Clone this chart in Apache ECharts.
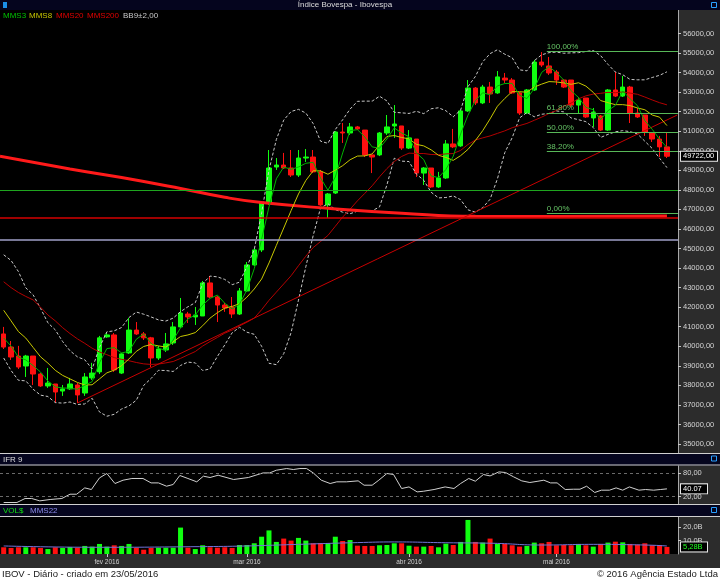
<!DOCTYPE html>
<html><head><meta charset="utf-8">
<script src="https://cdn.jsdelivr.net/npm/echarts@6/dist/echarts.min.js"></script>
<style>html,body{margin:0;padding:0;background:#000;}#c{width:720px;height:580px;}</style>
</head><body><div id="c"></div>
<script>
// ---------- DATA ----------
const dates = ['11/01','12/01','13/01','14/01','15/01','18/01','19/01','20/01','21/01','22/01','26/01','27/01','28/01','29/01',
'01/02','02/02','03/02','04/02','05/02','10/02','11/02','12/02','15/02','16/02','17/02','18/02','19/02','22/02','23/02','24/02','25/02','26/02','29/02',
'01/03','02/03','03/03','04/03','07/03','08/03','09/03','10/03','11/03','14/03','15/03','16/03','17/03','18/03','21/03','22/03','23/03','24/03','28/03','29/03','30/03','31/03',
'01/04','04/04','05/04','06/04','07/04','08/04','11/04','12/04','13/04','14/04','15/04','18/04','19/04','20/04','22/04','25/04','26/04','27/04','28/04','29/04',
'02/05','03/05','04/05','05/05','06/05','09/05','10/05','11/05','12/05','13/05','16/05','17/05','18/05','19/05','20/05','23/05'];
const monthIdx = [14,33,55,75];
const monthNames = ['fev 2016','mar 2016','abr 2016','mai 2016'];

const open = [40630,39960,39500,38990,39500,38580,37970,38070,37710,37820, 38020,37610,38380,38690,40480,40580,38630,39660,40830,40630,
40430,39400,39810,40170,40990,41650,41500,41550,43240,42520, 42110,42010,41650,42830,44160,44930,47330,49170,49270,49120,
48760,49630,49680,48920,47230,47840,50960,50910,51220,51060, 49790,49790,50910,51270,51270,50140,50600,48860,49120,48150,
48610,50350,50250,52040,53210,52450,53260,52960,53720,53620, 52960,51930,53110,54540,54340,54030,53620,53620,52340,52700,
51680,51780,51060,53110,52800,53260,51930,51830,50910,50600, 50200];
const close = [39960,39450,38940,39500,38580,37970,38120,37660,37820,38070, 37510,38430,38630,40430,40580,38790,39610,40830,40630,40430,
39400,39860,40120,40990,41700,41500,41600,43240,42520,42110, 41960,41650,42830,44160,44930,47330,49120,49270,49120,48760,
49630,49680,48920,47230,47790,50960,50910,51220,51120,49790, 49680,50910,51220,51370,50140,50660,48860,49120,48150,48610,
50350,50200,52040,53210,52450,53260,52910,53780,53620,52960, 51930,53110,54540,54390,53980,53620,53260,52340,52600,51730,
51980,51060,53110,52800,53260,51930,51730,50960,50600,50200, 49722];
const low = [39860,39300,38840,38430,38020,37920,37870,37100,37460,37770, 37100,37460,38280,38580,40430,38690,38580,39610,40580,40320,
38940,39300,39710,40070,40940,41190,41090,41550,42470,41240, 41760,41450,41600,42780,44110,44820,47230,49020,49070,48660,
48660,49430,48860,47180,46560,47790,50400,50810,51060,49680, 48860,49730,50810,50660,50040,50090,48660,48250,48100,48100,
48560,50140,50200,51990,52340,52390,52450,52910,53470,52910, 51830,51880,53060,54290,53880,53370,53210,52240,51930,51680,
51220,51010,51010,52750,52750,51420,51680,50760,50450,49680, 49630];
const high = [40990,40270,40020,39560,39500,38630,38890,38070,38020,38380, 38120,38630,39150,40530,40680,40680,39660,41450,41240,40730,
40480,40020,40680,41240,42470,41760,42010,43340,43600,42570, 42220,42520,42980,44310,45030,47430,50040,49630,49890,50040,
50040,50090,50040,49020,47840,51010,51420,51420,51270,51060, 49790,50960,51830,52340,51270,51060,50600,49170,49120,48920,
50550,51120,52090,53620,53260,53370,53520,54080,53980,53720, 53010,53160,54650,55050,54800,54130,53670,53620,52750,52700,
52190,51830,53160,54030,53830,53320,52190,51830,50960,50760, 50960];

const mms3 = [40420,40010,39450,39300,39010,38680,38220,37920,37870,37850, 37800,38000,38190,39160,39880,39930,39660,39740,40360,40630,
40150,39900,39790,40320,40940,41400,41600,42110,42450,42620, 42200,41910,42150,42880,43970,45470,47130,48570,49170,49050,
49170,49360,49410,48610,47980,48660,49890,51030,51080,50710, 50200,50130,50600,51170,50910,50720,49890,49550,48710,48630,
49040,49720,50860,51820,52570,52970,52870,53320,53440,53450, 52840,52670,53190,54010,54300,54000,53620,53070,52730,52220,
52100,51590,52050,52320,53060,52660,52310,51540,51100,50590, 50170];
const mms8 = [41840,41300,40750,40420,39940,39460,39140,38770,38510,38330, 38150,38020,38030,38330,38640,38780,39010,39350,39740,39990,
40090,40020,39960,40230,40500,40580,40700,41050,41440,41720, 41950,42040,42180,42510,42930,43440,44260,45160,46050,46940,
47790,48480,48980,48970,48800,49010,49240,49540,49730,49740, 49840,50300,50730,50780,50680,50610,50330,50250,50050,49770,
49660,49510,49750,50070,50520,51030,51630,52280,52680,53030, 53020,53000,53260,53410,53540,53520,53470,53400,53480,53310,
52990,52570,52460,52360,52360,52310,52190,52100,51830,51720, 51290];
const mms20 = [43300,43000,42750,42550,42370,42000,41600,41300,40950,40650, 40380,40150,39900,39710,39570,39420,39330,39260,39170,39100,
39070,39090,39150,39220,39380,39560,39730,40010,40240,40450, 40670,40830,41040,41230,41440,41870,42350,42770,43190,43610,
44120,44610,45050,45360,45670,46140,46610,47010,47440,47820, 48210,48670,49090,49450,49710,49880,49860,49860,49810,49800,
49840,49860,50020,50320,50550,50660,50760,50890,51020,51180, 51290,51400,51560,51720,51910,52060,52280,52440,52660,52810,
52900,52940,52990,52970,53010,52950,52890,52750,52600,52460, 52350];
const bbUp = [44680,44390,43820,42990,42630,41940,41200,40840,40240,39770, 39460,39310,38840,39940,40740,40790,40960,41470,41750,41640,
41500,41350,41290,41440,41770,42020,42230,43200,43590,43550, 43420,43150,43280,44070,44950,46830,49010,50580,51570,52010,
52120,51930,51390,50490,50380,51090,51590,52130,52530,52540, 52540,52790,52550,51970,51940,51910,52020,51900,52150,52200,
52050,51740,52080,53280,53800,54550,54970,55170,54940,54760, 54140,54090,54610,54910,55020,55050,54990,55010,55020,55080,
55130,54870,54420,54030,53890,53650,53630,53630,53750,53860, 54040];
const bbLo = [39400,38760,38260,38230,37800,37500,37430,37120,37090,37150, 37020,37050,37340,36640,36420,36520,36790,36950,37240,38000,
38350,38770,38760,38710,39020,39190,39150,38760,38840,39480, 40070,40690,40970,40720,40610,40000,39130,39060,39620,40700,
42360,44070,45670,47080,47290,46990,46860,46780,46910,46930, 46930,47130,48250,49620,49470,49450,48810,48490,47880,47590,
47610,47690,47500,46980,46860,47090,47520,48570,49910,50670, 51680,51960,51740,51870,51910,52040,51990,51680,51590,51490,
51190,50680,50840,50970,51030,50980,50860,50490,50120,49620, 49140];
const m200X = [-0.5, 9, 16, 24, 30, 35, 44, 54, 64, 75, 90];
const m200V = [49720, 49070, 48630, 48070, 47620, 47350, 47060, 46810, 46650, 46640, 46660];
const trendX = [10, 91.4];
const trendV = [37100, 51830];
const hLevels = [48000, 46550, 45430];
const fibStart = 73.7;
const fibPct = ['100,00%','61,80%','50,00%','38,20%','0,00%'];
const fibVal = [55080, 51930, 50940, 49960, 46800];
const priceTicks = [35000,36000,37000,38000,39000,40000,41000,42000,43000,44000,45000,46000,47000,48000,49000,50000,51000,52000,53000,54000,55000,56000];

const ifrX = [0.0,1.8,2.9,3.8,4.9,6.3,7.9,9.0,9.9,11.0, 11.9,13.0,14.0,15.1,16.2,17.4,18.9,20.0,21.0,22.1,
23.0,23.9,25.0,26.2,27.1,28.0,29.1,31.2,33.2,35.2, 36.1,37.0,38.4,39.3,40.2,41.1,42.0,43.1,44.3,45.2,
46.5,48.1, 48.9,50.0,50.9,52.0,52.9,54.0,55.0,56.1, 57.0,58.4,59.9,61.1,62.0,63.1,64.0,65.1,66.0,67.2,
68.1,69.2,70.3,71.4,72.5,73.3,74.2,75.1,76.2,77.3, 78.2,79.1,80.2,81.1,82.2,83.1,84.0,84.9,86.2,87.1, 88.2,89.1,90.0];
const ifrV = [5.1,5.1,15.4,15.4,9.3,12.8,15.4,26.4,26.4,42.6, 38.4,68.2,79.5,53.8,62.3,66.7,66.7,55.4,55.4,46.9,
51.3,74.4,66.7,58.1,72.6,69.2,75.1,64.1,69.2,81.0, 81.0,87.9,92.2,89.7,92.2,92.2,81.0,62.3,53.8,58.1,
58.1,60.6, 49.5,49.5,62.3,79.5,76.9,41.0,45.1,32.3, 34.1,38.4,45.1,41.0,53.8,66.7,59.7,76.9,73.3,83.6,
82.0,70.8,60.6,56.4,59.7,62.3,55.4,55.4,38.4,39.2, 39.2,46.9,30.8,36.7,36.7,42.6,36.7,45.1,36.7,38.4, 36.7,38.4,40.07];
const ifrTicks = [20, 80];
const ifrLast = 40.07;

const vol = [5.0,4.5,5.0,5.0,5.0,4.5,3.7,5.0,4.5,5.2, 4.7,6.0,5.5,7.5,5.5,6.5,6.0,7.5,4.7,3.2,
4.5,4.7,4.7,4.7,19.7,4.7,3.7,6.5,5.0,4.7, 5.0,4.5,6.7,6.7,8.0,12.9,17.6,9.0,11.5,10.0,
12.0,10.0,8.0,8.2,8.2,12.9,9.7,10.4,6.2,6.0, 6.0,6.5,6.7,8.0,8.0,6.2,5.5,5.5,6.0,5.0,
7.7,6.7,9.0,25.4,9.0,8.5,11.5,7.5,7.5,6.5, 5.5,6.0,8.5,8.0,9.0,6.5,6.7,6.5,7.5,6.5,
5.5,7.5,8.5,9.2,8.7,7.5,7.0,8.0,6.5,6.5, 5.28];
const volMaX = [0, 13, 26.6, 33, 40, 48, 53, 60, 66.4, 73, 80, 87, 90];
const volMaV = [6.0, 5.0, 5.5, 6.0, 7.2, 8.5, 9.0, 8.4, 8.0, 6.7, 7.2, 6.7, 6.0];
const volTicks = [10, 20];

// ---------- CHART ----------
const FONT = 'Liberation Sans, Arial, sans-serif';
const N = dates.length;
const cats = dates.concat(['']);
const ohlc = open.map((o, i) => [o, close[i], low[i], high[i]]);
const GREEN = '#10ff10', RED = '#ff1010';
const volData = vol.map((v, i) => ({ value: v, itemStyle: { color: close[i] >= open[i] ? GREEN : RED } }));
const fmtP = v => v.toFixed(2).replace('.', ',');
const fmtV = v => v.toFixed(1).replace('.', ',') + 'B';
const fmtV2 = v => v.toFixed(2).replace('.', ',') + 'B';

const chart = echarts.init(document.getElementById('c'), null, { renderer: 'canvas', width: 720, height: 580 });

const xCat = (g, extra) => Object.assign({ type: 'category', gridIndex: g, data: cats, boundaryGap: true,
  axisLine: { show: false, onZero: false }, axisTick: { show: false }, axisLabel: { show: false }, splitLine: { show: false } }, extra || {});
const xVal = g => ({ type: 'value', gridIndex: g, min: -0.5, max: N + 0.5, show: false, axisLine: { onZero: false } });
const yAx = (g, min, max, ticks, fmt) => ({ type: 'value', gridIndex: g, position: 'right', min: min, max: max,
  axisLine: { show: true, onZero: false, lineStyle: { color: '#a8a8a8', width: 1 } },
  axisTick: { show: true, length: 3, customValues: ticks, lineStyle: { color: '#c8c8c8' } },
  axisLabel: { show: true, customValues: ticks, formatter: fmt, color: '#d4d4d4', fontSize: 7.5, fontFamily: FONT, margin: 5 },
  splitLine: { show: false } });
const HIDDEN = { color: 'rgba(0,0,0,0)', width: 0.1 };
const boxLabel = (txt, color, w) => ({ show: true, position: 'end', distance: 3, formatter: txt, color: color,
  fontSize: 7.5, fontFamily: FONT, backgroundColor: '#000', borderColor: '#e8e8e8', borderWidth: 1,
  padding: [1, 2, 0, 2], width: w });

const fibData = fibVal.map((v, k) => [
  { coord: [fibStart, v], label: { show: true, formatter: fibPct[k] } },
  { coord: [N + 0.5, v] }
]);

const option = {
  backgroundColor: '#000',
  animation: false,
  grid: [
    { left: 0, top: 10, width: 678, height: 443 },
    { left: 0, top: 465.5, width: 678, height: 39 },
    { left: 0, top: 517, width: 678, height: 37 }
  ],
  xAxis: [
    xCat(0), xCat(1),
    xCat(2, {
      axisTick: { show: true, alignWithLabel: true, length: 3, interval: i => monthIdx.indexOf(i) >= 0, lineStyle: { color: '#c8c8c8' } },
      axisLabel: { show: true, interval: i => monthIdx.indexOf(i) >= 0, formatter: (v, i) => monthNames[monthIdx.indexOf(i)] || '',
        color: '#d0d0d0', fontSize: 6.5, fontFamily: FONT, margin: 5 }
    }),
    xVal(0), xVal(1), xVal(2)
  ],
  yAxis: [
    yAx(0, 34540, 57202, priceTicks, fmtP),
    yAx(1, 0, 100, ifrTicks, v => fmtP(v)),
    yAx(2, 0, 27.6, volTicks, fmtV)
  ],
  series: [
    { type: 'candlestick', xAxisIndex: 0, yAxisIndex: 0, data: ohlc, barWidth: 5, silent: true,
      itemStyle: { color: GREEN, color0: RED, borderColor: GREEN, borderColor0: RED, borderWidth: 1 },
      markLine: { symbol: 'none', silent: true, animation: false, label: { show: false },
        data: [
          { yAxis: hLevels[0], lineStyle: { color: '#1fa51f', width: 1, type: 'solid' } },
          { yAxis: hLevels[1], lineStyle: { color: '#d40000', width: 1.5, type: 'solid' } },
          { yAxis: hLevels[2], lineStyle: { color: '#a0a0c8', width: 1.5, type: 'solid' } },
          { yAxis: close[N - 1], lineStyle: HIDDEN, label: boxLabel(fmtP(close[N - 1]), '#ffffff', 32) }
        ] } },
    { name: 'BB', type: 'line', xAxisIndex: 0, yAxisIndex: 0, data: bbUp, symbol: 'none', silent: true,
      lineStyle: { color: '#c8c8c8', width: 1, type: [3, 2] } },
    { name: 'BB', type: 'line', xAxisIndex: 0, yAxisIndex: 0, data: bbLo, symbol: 'none', silent: true,
      lineStyle: { color: '#c8c8c8', width: 1, type: [3, 2] } },
    { name: 'MMS20', type: 'line', xAxisIndex: 0, yAxisIndex: 0, data: mms20, symbol: 'none', silent: true,
      lineStyle: { color: '#b40000', width: 1 } },
    { name: 'MMS200', type: 'line', xAxisIndex: 3, yAxisIndex: 0, data: m200X.map((x, k) => [x, m200V[k]]),
      symbol: 'none', smooth: true, silent: true, lineStyle: { color: '#ff1a1a', width: 3 } },
    { name: 'trend', type: 'line', xAxisIndex: 3, yAxisIndex: 0, data: trendX.map((x, k) => [x, trendV[k]]),
      symbol: 'none', silent: true, lineStyle: { color: '#c80000', width: 1 },
      markLine: { symbol: 'none', silent: true, animation: false,
        lineStyle: { color: '#58b858', width: 1, type: 'solid' },
        label: { show: true, position: 'insideStartTop', distance: [0, 1], color: '#66c466', fontSize: 8, fontFamily: FONT },
        data: fibData } },
    { name: 'MMS8', type: 'line', xAxisIndex: 0, yAxisIndex: 0, data: mms8, symbol: 'none', silent: true,
      lineStyle: { color: '#c8c800', width: 1 } },
    { name: 'MMS3', type: 'line', xAxisIndex: 0, yAxisIndex: 0, data: mms3, symbol: 'none', silent: true,
      lineStyle: { color: '#00b400', width: 1 } },
    { name: 'IFR', type: 'line', xAxisIndex: 4, yAxisIndex: 1, data: ifrX.map((x, k) => [x, ifrV[k]]),
      symbol: 'none', silent: true, lineStyle: { color: '#d0d0d0', width: 1 },
      markLine: { symbol: 'none', silent: true, animation: false, label: { show: false },
        data: [
          { yAxis: ifrTicks[1], lineStyle: { color: '#6a6a6a', width: 1, type: [3, 3] } },
          { yAxis: ifrTicks[0], lineStyle: { color: '#6a6a6a', width: 1, type: [3, 3] } },
          { yAxis: ifrLast, lineStyle: HIDDEN, label: boxLabel(ifrLast.toFixed(2), '#ffffff', 22) }
        ] } },
    { name: 'VOL', type: 'bar', xAxisIndex: 2, yAxisIndex: 2, data: volData, barWidth: 5, silent: true,
      markLine: { symbol: 'none', silent: true, animation: false, label: { show: false },
        data: [ { yAxis: vol[N - 1], lineStyle: HIDDEN, label: boxLabel(fmtV2(vol[N - 1]), '#22ff22', 22) } ] } },
    { name: 'MMS22', type: 'line', xAxisIndex: 5, yAxisIndex: 2, data: volMaX.map((x, k) => [x, volMaV[k]]),
      symbol: 'none', smooth: true, silent: true, lineStyle: { color: '#7272d8', width: 1 } }
  ],
  graphic: [
    { type: 'rect', z: -10, shape: { x: 678, y: 10, width: 42, height: 443 }, style: { fill: '#2c2c2c' } },
    { type: 'rect', z: -10, shape: { x: 678, y: 465.5, width: 42, height: 39 }, style: { fill: '#2c2c2c' } },
    { type: 'rect', z: -10, shape: { x: 678, y: 517, width: 42, height: 37 }, style: { fill: '#2c2c2c' } },
    { type: 'rect', z: -10, shape: { x: 0, y: 554, width: 720, height: 14 }, style: { fill: '#2c2c2c' } },
    { type: 'rect', z: 50, shape: { x: 0, y: 0, width: 720, height: 10 }, style: { fill: '#05051e' } },
    { type: 'rect', z: 50, shape: { x: 0, y: 453, width: 720, height: 12.5 }, style: { fill: '#05051e' } },
    { type: 'rect', z: 50, shape: { x: 0, y: 504.5, width: 720, height: 12 }, style: { fill: '#05051e' } },
    { type: 'line', z: 51, shape: { x1: 0, y1: 453.5, x2: 720, y2: 453.5 }, style: { stroke: '#d0d0d0', lineWidth: 1.2 } },
    { type: 'line', z: 51, shape: { x1: 0, y1: 465, x2: 720, y2: 465 }, style: { stroke: '#d0d0d0', lineWidth: 1 } },
    { type: 'line', z: 51, shape: { x1: 0, y1: 504.5, x2: 720, y2: 504.5 }, style: { stroke: '#d0d0d0', lineWidth: 1 } },
    { type: 'line', z: 51, shape: { x1: 0, y1: 516.5, x2: 720, y2: 516.5 }, style: { stroke: '#d0d0d0', lineWidth: 1 } },
    { type: 'rect', z: 50, shape: { x: 0, y: 568, width: 720, height: 12 }, style: { fill: '#ffffff' } },
    { type: 'text', z: 52, x: 345, y: 5, style: { text: 'Índice Bovespa - Ibovespa', fill: '#dcdcdc', font: '8px ' + FONT, textAlign: 'center', textVerticalAlign: 'middle' } },
    { type: 'rect', z: 52, shape: { x: 3, y: 2, width: 4, height: 6 }, style: { fill: '#1b8fe8' } },
    { type: 'rect', z: 52, shape: { x: 711.5, y: 2.5, width: 5, height: 5 }, style: { fill: 'none', stroke: '#2aa0ff', lineWidth: 1 } },
    { type: 'rect', z: 52, shape: { x: 711.5, y: 456, width: 5, height: 5 }, style: { fill: 'none', stroke: '#2aa0ff', lineWidth: 1 } },
    { type: 'rect', z: 52, shape: { x: 711.5, y: 507.5, width: 5, height: 5 }, style: { fill: 'none', stroke: '#2aa0ff', lineWidth: 1 } },
    { type: 'text', z: 52, x: 3, y: 15.5, style: { text: 'MMS3', fill: '#00c400', font: '8px ' + FONT, textVerticalAlign: 'middle' } },
    { type: 'text', z: 52, x: 29, y: 15.5, style: { text: 'MMS8', fill: '#c4c400', font: '8px ' + FONT, textVerticalAlign: 'middle' } },
    { type: 'text', z: 52, x: 56, y: 15.5, style: { text: 'MMS20', fill: '#e00000', font: '8px ' + FONT, textVerticalAlign: 'middle' } },
    { type: 'text', z: 52, x: 87, y: 15.5, style: { text: 'MMS200', fill: '#e00000', font: '8px ' + FONT, textVerticalAlign: 'middle' } },
    { type: 'text', z: 52, x: 123, y: 15.5, style: { text: 'BB9±2,00', fill: '#c8c8c8', font: '8px ' + FONT, textVerticalAlign: 'middle' } },
    { type: 'text', z: 52, x: 3, y: 459.5, style: { text: 'IFR 9', fill: '#dcdcdc', font: '8px ' + FONT, textVerticalAlign: 'middle' } },
    { type: 'text', z: 52, x: 3, y: 510.5, style: { text: 'VOL$', fill: '#10e010', font: '8px ' + FONT, textVerticalAlign: 'middle' } },
    { type: 'text', z: 52, x: 30, y: 510.5, style: { text: 'MMS22', fill: '#8a8ae8', font: '8px ' + FONT, textVerticalAlign: 'middle' } },
    { type: 'text', z: 52, x: 2, y: 574.5, style: { text: 'IBOV - Diário - criado em 23/05/2016', fill: '#202020', font: '9.5px ' + FONT, textVerticalAlign: 'middle' } },
    { type: 'text', z: 52, x: 718, y: 574.5, style: { text: '© 2016 Agência Estado Ltda', fill: '#202020', font: '9.5px ' + FONT, textAlign: 'right', textVerticalAlign: 'middle' } }
  ]
};
chart.setOption(option);
</script>
</body></html>
